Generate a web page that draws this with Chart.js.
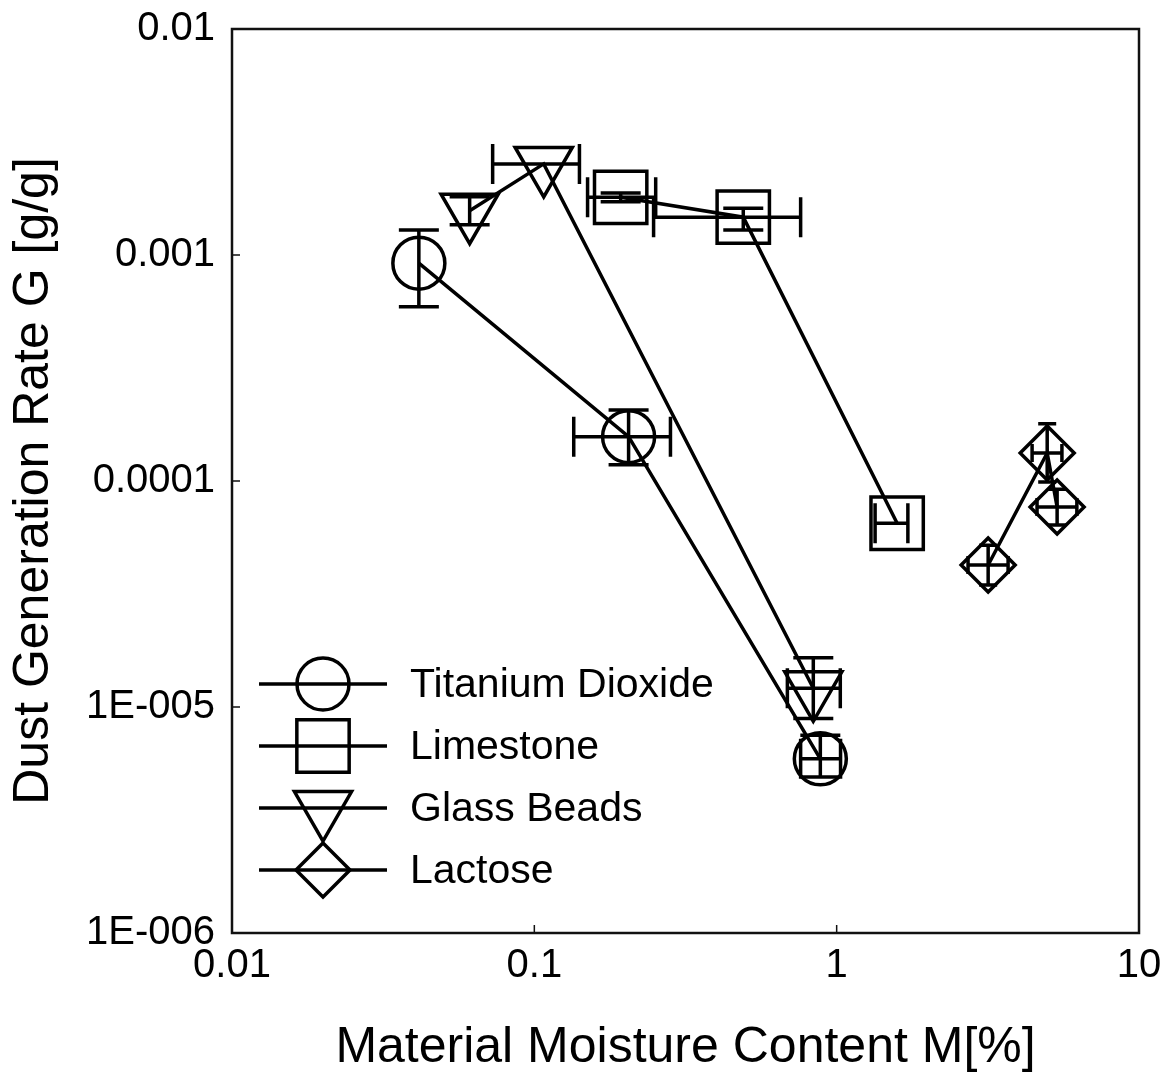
<!DOCTYPE html>
<html>
<head>
<meta charset="utf-8">
<title>Dust Generation Rate vs Material Moisture Content</title>
<script src="https://cdn.jsdelivr.net/npm/chart.js@4.4.1/dist/chart.umd.min.js"></script>
<style>
  html, body { margin: 0; padding: 0; background: #fff; }
  #wrap { width: 1170px; height: 1084px; }
</style>
</head>
<body>
<div id="wrap"><canvas id="dustChart" width="1170" height="1084"></canvas></div>
<script>
// ---- axis ticks ----
const mTicks = [0.01, 0.1, 1, 10];
const mTickLabels = ['0.01', '0.1', '1', '10'];
const gTicks = [1e-6, 1e-5, 1e-4, 1e-3, 1e-2];
const gTickLabels = ['1E-006', '1E-005', '0.0001', '0.001', '0.01'];

// ---- series (M = moisture %, G = dust generation rate g/g) ----
const seriesNames = ['Titanium Dioxide', 'Limestone', 'Glass Beads', 'Lactose'];

const tio2M      = [0.0415, 0.205, 0.883];
const tio2G      = [9.2e-4, 1.57e-4, 5.9e-6];
const tio2MLow   = [null, 0.135, 0.76];
const tio2MHigh  = [null, 0.282, 1.03];
const tio2GLow   = [5.9e-4, 1.18e-4, 4.9e-6];
const tio2GHigh  = [1.29e-3, 2.06e-4, 7.5e-6];

const limeM      = [0.193, 0.491, 1.585];
const limeG      = [1.8e-3, 1.47e-3, 6.5e-5];
const limeMLow   = [0.150, 0.248, 1.34];
const limeMHigh  = [0.252, 0.76, 1.72];
const limeGLow   = [1.72e-3, 1.29e-3, null];
const limeGHigh  = [1.88e-3, 1.61e-3, null];

const glassM     = [0.0611, 0.1074, 0.837];
const glassG     = [1.57e-3, 2.53e-3, 1.21e-5];
const glassMLow  = [null, 0.0728, 0.687];
const glassMHigh = [null, 0.141, 1.028];
const glassGLow  = [1.36e-3, null, 8.9e-6];
const glassGHigh = [1.81e-3, null, 1.65e-5];

const lactM      = [3.17, 4.97, 5.36];
const lactG      = [4.25e-5, 1.33e-4, 7.67e-5];
const lactMLow   = [2.72, 4.43, 4.60];
const lactMHigh  = [3.69, 5.56, 6.23];
const lactGLow   = [3.47e-5, 9.9e-5, 6.38e-5];
const lactGHigh  = [5.2e-5, 1.79e-4, 9.2e-5];

const FONT = "'Liberation Sans', Arial, Helvetica, sans-serif";
Chart.defaults.font.family = FONT;
Chart.defaults.color = '#000';

function makeSet(label, ms, gs, mLo, mHi, gLo, gHi, style, radius, rotation, cap) {
  return {
    label,
    data: ms.map((m, i) => ({ x: m, y: gs[i] })),
    errM: [mLo, mHi],
    errG: [gLo, gHi],
    errCap: cap,
    borderColor: '#000',
    borderWidth: 3.5,
    tension: 0,
    fill: false,
    pointStyle: style,
    pointRadius: radius,
    pointHoverRadius: radius,
    pointRotation: rotation,
    pointBorderWidth: 3.5,
    pointBorderColor: '#000',
    pointBackgroundColor: 'rgba(0,0,0,0)'
  };
}

// keep the plot box exactly where the layout puts it (no label overhang padding)
function noPad(s) {
  s.paddingTop = 0; s.paddingBottom = 0; s.paddingLeft = 0; s.paddingRight = 0;
}

/**
 * errorBars: horizontal (M) and vertical (G) bars with caps, drawn on the scales.
 */
const errorBars = {
  id: 'errorBars',
  afterDatasetsDraw(chart) {
    const { ctx, scales: { x, y } } = chart;
    ctx.save();
    ctx.strokeStyle = '#000';
    ctx.lineWidth = 3.5;
    chart.data.datasets.forEach(ds => {
      const cap = ds.errCap;
      ds.data.forEach((p, i) => {
        const px = x.getPixelForValue(p.x);
        const py = y.getPixelForValue(p.y);
        const mLo = ds.errM[0][i], mHi = ds.errM[1][i];
        const gLo = ds.errG[0][i], gHi = ds.errG[1][i];
        ctx.beginPath();
        if (mLo != null && mHi != null) {
          const a = x.getPixelForValue(mLo), b = x.getPixelForValue(mHi);
          ctx.moveTo(a, py); ctx.lineTo(b, py);
          ctx.moveTo(a, py - cap); ctx.lineTo(a, py + cap);
          ctx.moveTo(b, py - cap); ctx.lineTo(b, py + cap);
        }
        if (gLo != null && gHi != null) {
          const a = y.getPixelForValue(gLo), b = y.getPixelForValue(gHi);
          ctx.moveTo(px, a); ctx.lineTo(px, b);
          ctx.moveTo(px - cap, a); ctx.lineTo(px + cap, a);
          ctx.moveTo(px - cap, b); ctx.lineTo(px + cap, b);
        }
        ctx.stroke();
      });
    });
    ctx.restore();
  }
};

/**
 * frameAndTicks: closed box round the plot, inward major ticks on left / bottom.
 */
const frameAndTicks = {
  id: 'frameAndTicks',
  beforeDatasetsDraw(chart) {
    const { ctx, chartArea: ca, scales: { x, y } } = chart;
    ctx.save();
    ctx.strokeStyle = '#111';
    ctx.lineWidth = 1.5;
    ctx.beginPath();
    mTicks.forEach(v => {
      const px = x.getPixelForValue(v);
      ctx.moveTo(px, ca.bottom);
      ctx.lineTo(px, ca.bottom - 8);
    });
    gTicks.forEach(v => {
      const py = y.getPixelForValue(v);
      ctx.moveTo(ca.left, py);
      ctx.lineTo(ca.left + 8, py);
    });
    ctx.stroke();
    ctx.lineWidth = 2.5;
    ctx.strokeRect(ca.left, ca.top, ca.right - ca.left, ca.bottom - ca.top);
    ctx.restore();
  }
};

/**
 * legendBox: line + marker + name, bottom-left inside the plot.
 */
const legendBox = {
  id: 'legendBox',
  afterDraw(chart) {
    const { ctx, chartArea: ca } = chart;
    ctx.save();
    chart.data.datasets.forEach((ds, i) => {
      const yRow = ca.bottom - 249 + i * 62;
      const x0 = ca.left + 27, x1 = ca.left + 155, xm = (x0 + x1) / 2;
      ctx.strokeStyle = '#000';
      ctx.fillStyle = 'rgba(0,0,0,0)';
      ctx.lineWidth = 3.5;
      ctx.beginPath();
      ctx.moveTo(x0, yRow);
      ctx.lineTo(x1, yRow);
      ctx.stroke();
      Chart.helpers.drawPoint(ctx, {
        pointStyle: ds.pointStyle,
        radius: ds.pointRadius,
        rotation: ds.pointRotation || 0,
        borderWidth: 3.5
      }, xm, yRow);
      ctx.fillStyle = '#000';
      ctx.font = '41px ' + FONT;
      ctx.textAlign = 'left';
      ctx.textBaseline = 'middle';
      ctx.fillText(ds.label, ca.left + 178, yRow + 2);
    });
    ctx.restore();
  }
};

const datasets = [
  makeSet(seriesNames[0], tio2M, tio2G, tio2MLow, tio2MHigh, tio2GLow, tio2GHigh, 'circle', 26, 0, 20),
  makeSet(seriesNames[1], limeM, limeG, limeMLow, limeMHigh, limeGLow, limeGHigh, 'rect', 37, 0, 20),
  makeSet(seriesNames[2], glassM, glassG, glassMLow, glassMHigh, glassGLow, glassGHigh, 'triangle', 33, 180, 20),
  makeSet(seriesNames[3], lactM, lactG, lactMLow, lactMHigh, lactGLow, lactGHigh, 'rectRot', 27, 0, 9)
];

new Chart(document.getElementById('dustChart').getContext('2d'), {
  type: 'line',
  data: { datasets },
  options: {
    responsive: false,
    animation: false,
    devicePixelRatio: 1,
    layout: { autoPadding: false, padding: { top: 29, right: 31, left: 0, bottom: 0 } },
    scales: {
      x: {
        type: 'logarithmic',
        min: 0.01,
        max: 10,
        afterBuildTicks: s => { s.ticks = mTicks.map(v => ({ value: v })); },
        afterFit: s => { s.height = 151; noPad(s); },
        grid: { display: false, drawTicks: false },
        border: { display: false },
        ticks: {
          autoSkip: false, maxRotation: 0, minRotation: 0, padding: 9,
          color: '#000', font: { size: 40 },
          callback: (v, i) => mTickLabels[i]
        },
        title: {
          display: true, text: 'Material Moisture Content M[%]', color: '#000',
          font: { size: 50 }, padding: { top: 0, bottom: 6 }
        }
      },
      y: {
        type: 'logarithmic',
        min: 1e-6,
        max: 1e-2,
        afterBuildTicks: s => { s.ticks = gTicks.map(v => ({ value: v })); },
        afterFit: s => { s.width = 232; noPad(s); },
        grid: { display: false, drawTicks: false },
        border: { display: false },
        ticks: {
          autoSkip: false, padding: 17,
          color: '#000', font: { size: 40 },
          callback: (v, i) => gTickLabels[i]
        },
        title: {
          display: true, text: 'Dust Generation Rate G [g/g]', color: '#000',
          font: { size: 50 }, padding: { top: 4, bottom: 0 }
        }
      }
    },
    plugins: { legend: { display: false }, tooltip: { enabled: false } }
  },
  plugins: [frameAndTicks, errorBars, legendBox]
});
</script>
</body>
</html>
